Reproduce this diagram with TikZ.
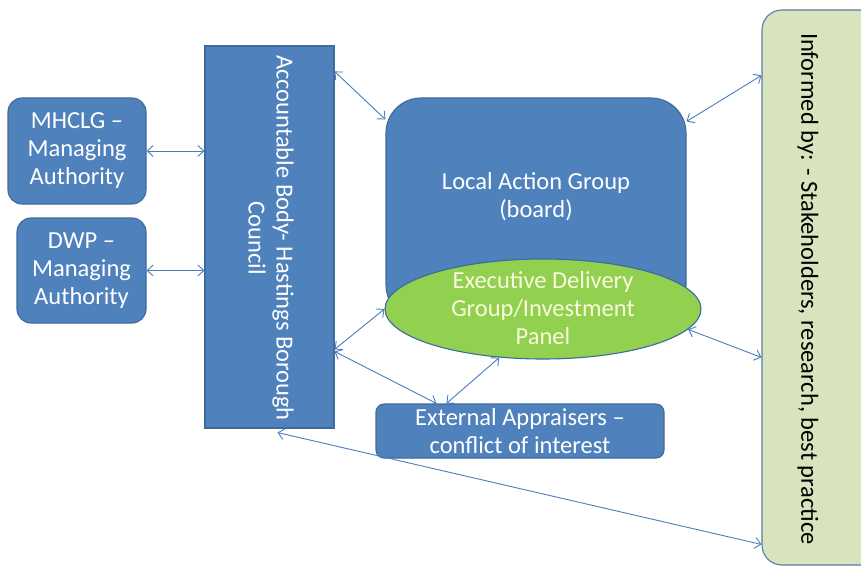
\documentclass[tikz,border=0pt]{standalone}
\usepackage{fontspec}
\setmainfont{Carlito}
\usetikzlibrary{arrows.meta,shapes.geometric}
\definecolor{boxblue}{HTML}{4F81BD}
\definecolor{edgeblue}{HTML}{3F6A9C}
\definecolor{arrowblue}{HTML}{4A7EBB}
\definecolor{panelgreen}{HTML}{92D050}
\definecolor{infofill}{HTML}{D7E4BD}
\definecolor{infoedge}{HTML}{5B7BA3}
\definecolor{paletext}{HTML}{FAFADC}
\begin{document}
\begin{tikzpicture}[x=1pt, y=-1pt,
    big/.style = {font=\fontsize{24.5}{28}\selectfont, align=center},
    box/.style = {draw=edgeblue, fill=boxblue, line width=1.1pt, text=white, big, inner sep=0pt},
    link/.style = {draw=arrowblue, line width=0.9pt, {Straight Barb[length=6pt,width=11pt]}-{Straight Barb[length=6pt,width=11pt]}}]
    \clip (0,0) rectangle (861,567);

    \node[box, rounded corners=14pt, minimum width=138pt, minimum height=106pt] (mhclg) at (77,151) {MHCLG --\\Managing\\Authority};
    \node[box, rounded corners=14pt, minimum width=129pt, minimum height=105pt] (dwp) at (81.5,270.5) {DWP --\\Managing\\Authority};

    \node[box, minimum width=129pt, minimum height=382pt] (acc) at (269.5,237) {};
    \node[big, text=white, rotate=-90] (acctxt) at (271,238) {Accountable Body- Hastings Borough\\Council};

    \node[box, rounded corners=35pt, minimum width=300pt, minimum height=222pt] (lag) at (536,209) {};
    \node[big, text=white] (lagtxt) at (536,197) {Local Action Group\\(board)};

    \node[ellipse, draw=edgeblue, fill=panelgreen, line width=1.1pt, minimum width=316pt, minimum height=100pt, inner sep=0pt] (edg) at (543,309) {};
    \node[big, text=paletext] (edgtxt) at (543,308) {Executive Delivery\\Group/Investment\\Panel};

    \node[box, rounded corners=8pt, minimum width=288pt, minimum height=54pt] (ext) at (520,431) {External Appraisers --\\conflict of interest};

    \node[draw=infoedge, fill=infofill, line width=1.1pt, rounded corners=20pt, minimum width=128pt, minimum height=555pt] (inf) at (826,287.5) {};
    \node[big, rotate=-90] (inftxt) at (808,289) {Informed by: - Stakeholders, research, best practice};

    \draw[link] ([yshift=-26pt]acc.north east) -- ([yshift=-22pt]lag.north west);
    \draw[link] (mhclg.east) -- (mhclg.east -| acc.west);
    \draw[link] (dwp.east) -- (dwp.east -| acc.west);
    \draw[link] ([yshift=-304pt]acc.north east) -- (edg.west);
    \draw[link] ([yshift=-306pt]acc.north east) -- ([xshift=61pt]ext.north west);
    \draw[link] (edg.228) -- ([xshift=71pt]ext.north west);
    \draw[link] ([yshift=-24pt]lag.north east) -- ([yshift=-66pt]inf.north west);
    \draw[link] (edg.352) -- ([yshift=-348pt]inf.north west);
    \draw[link] ([shift={(8pt,-4pt)}]acc.south) -- ([yshift=-535pt]inf.north west);

\end{tikzpicture}
\end{document}
